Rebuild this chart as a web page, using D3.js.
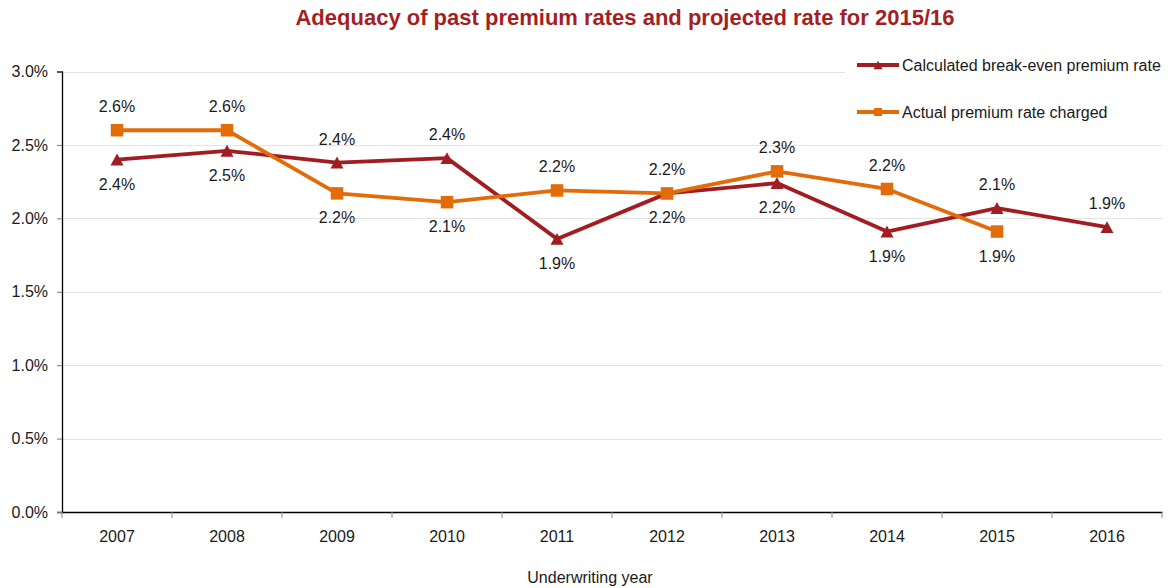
<!DOCTYPE html>
<html>
<head>
<meta charset="utf-8">
<script src="https://cdn.jsdelivr.net/npm/d3@7"></script>
<style>
  html, body { margin: 0; padding: 0; background: #fff; }
  svg { display: block; font-family: "Liberation Sans", Arial, sans-serif; }
</style>
</head>
<body>
<svg id="chart" width="1168" height="588"></svg>
<script>
// Underwriting years and rates (in percent)
const years = ["2007", "2008", "2009", "2010", "2011", "2012", "2013", "2014", "2015", "2016"];
const breakEvenRate = [2.40, 2.46, 2.38, 2.41, 1.86, 2.17, 2.24, 1.91, 2.07, 1.94];
const actualRate = [2.60, 2.60, 2.17, 2.11, 2.19, 2.17, 2.32, 2.20, 1.91, null];
const yTicks = [0, 0.5, 1.0, 1.5, 2.0, 2.5, 3.0];
const seriesNames = ["Calculated break-even premium rate", "Actual premium rate charged"];

// Where each data label sits relative to its point
const breakEvenLabelSide = ["below", "below", "above", "above", "below", "below", "below", "below", "above", "above"];
const actualLabelSide = ["above", "above", "below", "below", "above", "above", "above", "above", "below"];

const RED = "#a21d22";
const ORANGE = "#e36c0a";
const TEXT = "#1a1a1a";

const svg = d3.select("#chart");
const plotLeft = 62, plotRight = 1162, plotTop = 71.5, plotBottom = 512;

const x = d3.scaleBand().domain(years).range([plotLeft, plotRight]).paddingInner(0).paddingOuter(0);
const y = d3.scaleLinear().domain([0, 3]).range([plotBottom, plotTop]);
const cx = d => x(d) + x.bandwidth() / 2;

// Title
svg.append("text")
  .attr("x", 625).attr("y", 25)
  .attr("text-anchor", "middle")
  .attr("font-size", 22).attr("font-weight", "bold")
  .attr("fill", "#a31f24")
  .text("Adequacy of past premium rates and projected rate for 2015/16");

// Horizontal gridlines
svg.append("g").selectAll("line").data(yTicks.filter(t => t > 0)).join("line")
  .attr("x1", plotLeft).attr("x2", plotRight)
  .attr("y1", d => Math.round(y(d)) + 0.5).attr("y2", d => Math.round(y(d)) + 0.5)
  .attr("stroke", "#e4e4e4").attr("stroke-width", 1);

// Y axis
const yAxis = svg.append("g")
  .attr("transform", `translate(${plotLeft},0)`)
  .call(d3.axisLeft(y).tickValues(yTicks).tickFormat(d => d.toFixed(1) + "%").tickSize(5).tickPadding(9));
yAxis.select(".domain").attr("stroke", "#000").attr("stroke-width", 1.3);
yAxis.selectAll(".tick line").attr("stroke", "#777");
yAxis.selectAll(".tick text").attr("font-size", 16).attr("fill", TEXT)
  .attr("font-family", "'Liberation Sans', Arial, sans-serif");

// X axis: category labels centred in bands, ticks on band boundaries
const xAxis = svg.append("g")
  .attr("transform", `translate(0,${plotBottom})`)
  .call(d3.axisBottom(x).tickSize(0).tickPadding(19));
xAxis.select(".domain").attr("stroke", "#000").attr("stroke-width", 1.3);
xAxis.selectAll(".tick text").attr("font-size", 16).attr("fill", TEXT)
  .attr("font-family", "'Liberation Sans', Arial, sans-serif");
const boundaries = years.map(d => x(d)).concat([x(years[years.length - 1]) + x.bandwidth()]);
svg.append("g").selectAll("line").data(boundaries).join("line")
  .attr("x1", d => d).attr("x2", d => d)
  .attr("y1", plotBottom).attr("y2", plotBottom + 6)
  .attr("stroke", "#888").attr("stroke-width", 1);

// X axis title
svg.append("text")
  .attr("x", 590).attr("y", 583)
  .attr("text-anchor", "middle")
  .attr("font-size", 16).attr("fill", TEXT)
  .text("Underwriting year");

// Marker shapes
function trianglePath(s) {
  const w = s, h = s * 0.92;
  return `M0,${-h / 2}L${w / 2},${h / 2}L${-w / 2},${h / 2}Z`;
}
function squarePath(s) {
  return `M${-s / 2},${-s / 2}h${s}v${s}h${-s}Z`;
}

function drawSeries(values, color, marker, sides) {
  const pts = years.map((yr, i) => ({ yr, v: values[i], side: sides[i] })).filter(p => p.v != null);
  const line = d3.line().x(p => cx(p.yr)).y(p => y(p.v));
  const g = svg.append("g");
  g.append("path").datum(pts)
    .attr("d", line)
    .attr("fill", "none").attr("stroke", color)
    .attr("stroke-width", 3.8).attr("stroke-linejoin", "round");
  g.selectAll("path.mk").data(pts).join("path")
    .attr("class", "mk")
    .attr("transform", p => `translate(${cx(p.yr)},${y(p.v)})`)
    .attr("d", marker)
    .attr("fill", color);
  g.selectAll("text").data(pts).join("text")
    .attr("x", p => cx(p.yr))
    .attr("y", p => y(p.v) + (p.side === "above" ? -18 : 30))
    .attr("text-anchor", "middle")
    .attr("font-size", 16).attr("fill", TEXT)
    .text(p => p.v.toFixed(1) + "%");
}

drawSeries(breakEvenRate, RED, trianglePath(13), breakEvenLabelSide);
drawSeries(actualRate, ORANGE, squarePath(12.5), actualLabelSide);

// Legend (white box over the plot area)
const legend = svg.append("g");
legend.append("rect")
  .attr("x", 845).attr("y", 46).attr("width", 323).attr("height", 86)
  .attr("fill", "#fff");
const legendItems = [
  { name: seriesNames[0], color: RED, marker: trianglePath(9), ly: 65 },
  { name: seriesNames[1], color: ORANGE, marker: squarePath(8), ly: 112 }
];
legendItems.forEach(it => {
  legend.append("line")
    .attr("x1", 857).attr("x2", 899).attr("y1", it.ly).attr("y2", it.ly)
    .attr("stroke", it.color).attr("stroke-width", 3.8);
  legend.append("path")
    .attr("transform", `translate(878,${it.ly})`)
    .attr("d", it.marker).attr("fill", it.color);
  legend.append("text")
    .attr("x", 902).attr("y", it.ly + 6)
    .attr("font-size", 16).attr("fill", TEXT)
    .text(it.name);
});
</script>
</body>
</html>
